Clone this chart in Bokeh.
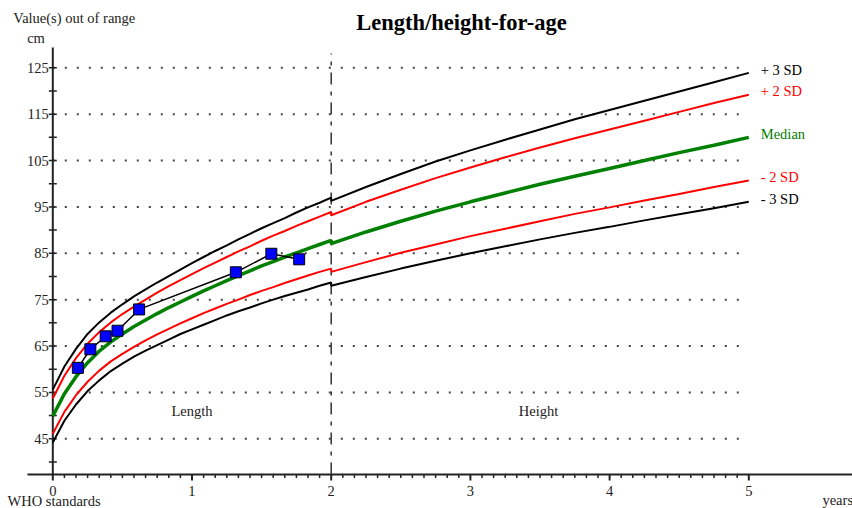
from bokeh.plotting import figure
from bokeh.models import Range1d, ColumnDataSource
from bokeh.embed import file_html
from bokeh.resources import INLINE
from bokeh.core.properties import value

# ---------------- data ----------------
# WHO length-for-age (boys), birth to 24 months
len_months = [0, 1, 2, 3, 4, 5, 6, 7, 8, 9, 10, 11, 12, 13, 14, 15, 16, 17, 18, 19, 20, 21, 22, 23, 24]
len_m3 = [44.2, 48.9, 52.4, 55.3, 57.6, 59.6, 61.2, 62.7, 64.0, 65.2, 66.4, 67.6, 68.6, 69.6, 70.6, 71.6, 72.5, 73.3, 74.2, 75.0, 75.8, 76.5, 77.2, 78.0, 78.7]
len_m2 = [46.1, 50.8, 54.4, 57.3, 59.7, 61.7, 63.3, 64.8, 66.2, 67.5, 68.7, 69.9, 71.0, 72.1, 73.1, 74.1, 75.0, 76.0, 76.9, 77.7, 78.6, 79.4, 80.2, 81.0, 81.7]
len_med = [49.9, 54.7, 58.4, 61.4, 63.9, 65.9, 67.6, 69.2, 70.6, 72.0, 73.3, 74.5, 75.7, 76.9, 78.0, 79.1, 80.2, 81.2, 82.3, 83.2, 84.2, 85.1, 86.0, 86.9, 87.8]
len_p2 = [53.7, 58.6, 62.4, 65.5, 68.0, 70.1, 71.9, 73.5, 75.0, 76.5, 77.9, 79.2, 80.5, 81.8, 83.0, 84.2, 85.4, 86.5, 87.7, 88.8, 89.8, 90.9, 91.9, 92.9, 93.9]
len_p3 = [55.6, 60.6, 64.4, 67.6, 70.1, 72.2, 74.0, 75.7, 77.2, 78.7, 80.1, 81.5, 82.9, 84.2, 85.5, 86.7, 88.0, 89.2, 90.4, 91.5, 92.6, 93.8, 94.9, 95.9, 97.0]

# WHO height-for-age (boys), 24 to 60 months
ht_months = [24, 27, 30, 33, 36, 39, 42, 45, 48, 51, 54, 57, 60]
ht_m3 = [78.0, 79.9, 81.7, 83.4, 85.0, 86.5, 88.0, 89.4, 90.7, 92.1, 93.4, 94.7, 96.1]
ht_m2 = [81.0, 83.1, 85.1, 86.9, 88.7, 90.3, 91.9, 93.5, 94.9, 96.4, 97.8, 99.3, 100.7]
ht_med = [87.1, 89.6, 91.9, 94.1, 96.1, 98.0, 99.9, 101.6, 103.3, 105.0, 106.7, 108.3, 110.0]
ht_p2 = [93.2, 96.1, 98.7, 101.2, 103.5, 105.7, 107.8, 109.8, 111.7, 113.6, 115.5, 117.4, 119.2]
ht_p3 = [96.3, 99.3, 102.1, 104.8, 107.2, 109.5, 111.7, 113.9, 115.9, 117.9, 119.9, 121.9, 123.9]

# child's measurements (age in years, cm)
child_age = [0.18, 0.27, 0.38, 0.465, 0.62, 1.315, 1.57, 1.77]
child_len = [60.3, 64.3, 67.1, 68.3, 72.9, 80.9, 84.9, 83.7]

# axes
x_major = [0, 1, 2, 3, 4, 5]
x_minor_months = [m for m in range(1, 60) if m % 12 != 0]
y_major = [45, 55, 65, 75, 85, 95, 105, 115, 125]
y_minor = [40, 50, 60, 70, 80, 90, 100, 110, 120]

curve_names = ["+ 3 SD", "+ 2 SD", "Median", "- 2 SD", "- 3 SD"]
curve_colors = ["#000000", "#ff0000", "#008000", "#ff0000", "#000000"]
curve_widths = [2, 2, 3.5, 2, 2]

# ---------------- figure ----------------
FONT = "Liberation Serif"
AX = "#222222"
X0, X1 = -0.3757, 5.745
Y0, Y1 = 29.97, 139.51
XAXIS_Y = 37.30          # value at which the x axis is drawn
PX = 1 / 4.6375          # one screen pixel in cm units

p = figure(width=852, height=508, output_backend="svg", toolbar_location=None,
           x_range=Range1d(X0, X1), y_range=Range1d(Y0, Y1),
           x_axis_location=None, y_axis_location=None,
           min_border_left=0, min_border_right=0, min_border_top=0, min_border_bottom=0)
p.outline_line_color = None
p.xgrid.visible = False
p.ygrid.visible = False
p.background_fill_color = "white"
p.border_fill_color = "white"

def txt(xs, ys, texts, size="14.5px", color=AX, align="left", baseline="middle",
        bold=False, x_offset=0):
    p.text(x=xs, y=ys, text=texts, text_font=value(FONT), text_font_size=size,
           text_color=color, text_align=align, text_baseline=baseline,
           text_font_style="bold" if bold else "normal", x_offset=x_offset)

# dotted horizontal grid
p.segment(x0=[0] * len(y_major), y0=y_major, x1=[5] * len(y_major), y1=y_major,
          line_color="#444444", line_width=2, line_dash="2 10")

# x axis
x_minor = [m / 12 for m in x_minor_months]
p.segment(x0=[-0.182], y0=[XAXIS_Y], x1=[X1], y1=[XAXIS_Y], line_color=AX, line_width=2)
p.segment(x0=x_major, y0=[XAXIS_Y] * len(x_major), x1=x_major,
          y1=[XAXIS_Y - 6 * PX] * len(x_major), line_color=AX, line_width=2)
p.segment(x0=x_minor, y0=[XAXIS_Y] * len(x_minor), x1=x_minor,
          y1=[XAXIS_Y - 3.5 * PX] * len(x_minor), line_color=AX, line_width=1.5)
txt(x_major, [XAXIS_Y - 16 * PX] * len(x_major), [str(v) for v in x_major], align="center")

# y axis (drawn at x = 0)
p.segment(x0=[0], y0=[XAXIS_Y], x1=[0], y1=[129.4], line_color=AX, line_width=2)
p.scatter(x=[0] * (len(y_major) + len(y_minor)), y=y_major + y_minor, marker="dash",
          size=8, line_color=AX, line_width=1.5)
txt([0] * len(y_major), y_major, [str(v) for v in y_major], align="right", x_offset=-4)

# length / height separator
p.segment(x0=[2], y0=[XAXIS_Y], x1=[2], y1=[128.1], line_color="#333333",
          line_width=1.5, line_dash="12 7 4 7")

# reference curves
len_age = [m / 12 for m in len_months]
ht_age = [m / 12 for m in ht_months]
len_sets = [len_p3, len_p2, len_med, len_m2, len_m3]
ht_sets = [ht_p3, ht_p2, ht_med, ht_m2, ht_m3]
for name, col, w, ls, hs in zip(curve_names, curve_colors, curve_widths, len_sets, ht_sets):
    p.line(x=len_age + ht_age, y=ls + hs, line_color=col, line_width=w)
    txt([ht_age[-1]], [hs[-1] + 0.7], [name], color=col, x_offset=12)

# child's measurements
src = ColumnDataSource(dict(age=child_age, length=child_len))
p.line(x="age", y="length", source=src, line_color="black", line_width=1.5)
p.scatter(x="age", y="length", source=src, marker="square", size=11,
          fill_color="#0000ff", line_color="black", line_width=1)

# texts
txt([2.936], [134.77], ["Length/height-for-age"], size="22.5px", bold=True,
    align="center", color="#000000")
txt([-0.284], [135.63], ["Value(s) out of range"])
txt([-0.184], [131.53], ["cm"])
txt([1.0], [50.9], ["Length"], align="center")
txt([3.49], [50.9], ["Height"], align="center")
txt([-0.325], [31.6], ["WHO standards"])
txt([5.529], [31.75], ["years"])

open("out.html", "w").write(file_html(p, INLINE))
